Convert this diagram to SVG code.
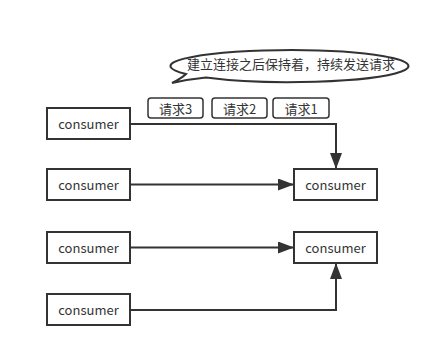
<svg xmlns="http://www.w3.org/2000/svg" width="441" height="357" viewBox="0 0 441 357">
<style>
.box{fill:#fff;stroke:#333;stroke-width:2}
.req{fill:#fff;stroke:#333;stroke-width:1.5}
.t{font-family:"Noto Sans CJK SC","Noto Sans",sans-serif;font-size:13px;fill:#333;text-anchor:middle;dominant-baseline:central}
.ln{fill:none;stroke:#333;stroke-width:2}
</style>
<defs>
<marker id="ah" markerWidth="16" markerHeight="12" refX="16" refY="6" orient="auto" markerUnits="userSpaceOnUse">
<path d="M0,0 L16,6 L0,12 Z" fill="#333"/>
</marker>
</defs>
<rect width="441" height="357" fill="#fff"/>
<g id="bubble">
<path d="M186,74 A119,16 0 1 1 206,77.5 Q190,79 172,83 Q182,78 186,74 Z" fill="#fff" stroke="#333" stroke-width="2"/>
<text class="t" x="291" y="63">建立连接之后保持着，持续发送请求</text>
</g>
<g id="req3"><rect class="req" x="148" y="98" width="55" height="20" rx="3"/><text class="t" x="175.5" y="108">请求3</text></g>
<g id="req2"><rect class="req" x="212" y="98" width="55" height="20" rx="3"/><text class="t" x="239.5" y="108">请求2</text></g>
<g id="req1"><rect class="req" x="273" y="98" width="56" height="20" rx="3"/><text class="t" x="301" y="108">请求1</text></g>
<g id="connectors">
<path class="ln" d="M130,124 H336 V169" marker-end="url(#ah)"/>
<path class="ln" d="M130,184.5 H294" marker-end="url(#ah)"/>
<path class="ln" d="M130,247.5 H294" marker-end="url(#ah)"/>
<path class="ln" d="M130,310 H336 V263" marker-end="url(#ah)"/>
</g>
<g id="c1"><rect class="box" x="47" y="108" width="83" height="31"/><text class="t" x="88.5" y="123.5">consumer</text></g>
<g id="c2"><rect class="box" x="47" y="169" width="83" height="31"/><text class="t" x="88.5" y="184.5">consumer</text></g>
<g id="c3"><rect class="box" x="47" y="232" width="83" height="31"/><text class="t" x="88.5" y="247.5">consumer</text></g>
<g id="c4"><rect class="box" x="47" y="294" width="83" height="31"/><text class="t" x="88.5" y="309.5">consumer</text></g>
<g id="s1"><rect class="box" x="294" y="169" width="83" height="31"/><text class="t" x="335.5" y="184.5">consumer</text></g>
<g id="s2"><rect class="box" x="294" y="232" width="83" height="31"/><text class="t" x="335.5" y="247.5">consumer</text></g>
</svg>
